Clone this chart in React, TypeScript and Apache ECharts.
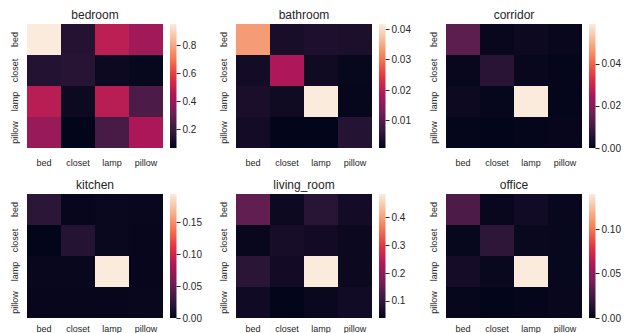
import React, { useEffect, useRef } from 'react';
import * as echarts from 'echarts';

const CATEGORIES = ['bed', 'closet', 'lamp', 'pillow'];
const ROOMS = ['bedroom', 'bathroom', 'corridor', 'kitchen', 'living_room', 'office'];

// rows: bed, closet, lamp, pillow (top to bottom); columns: bed, closet, lamp, pillow
const bedroom = [
  [0.95, 0.15, 0.48, 0.42],
  [0.145, 0.155, 0.09, 0.075],
  [0.47, 0.09, 0.47, 0.24],
  [0.4, 0.065, 0.23, 0.44],
];
const bathroom = [
  [0.0336, 0.0035, 0.004, 0.0038],
  [0.003, 0.0185, 0.0025, 0.0015],
  [0.0037, 0.0025, 0.0417, 0.0013],
  [0.003, 0.001, 0.001, 0.005],
];
const corridor = [
  [0.014, 0.001, 0.0015, 0.0008],
  [0.0008, 0.0065, 0.0008, 0.0004],
  [0.0015, 0.0005, 0.059, 0.0004],
  [0.0003, 0.0, 0.0003, 0.0006],
];
const kitchen = [
  [0.023, 0.002, 0.004, 0.003],
  [0.0, 0.019, 0.004, 0.002],
  [0.003, 0.003, 0.194, 0.002],
  [0.002, 0.002, 0.002, 0.003],
];
const livingRoom = [
  [0.15, 0.05, 0.085, 0.06],
  [0.045, 0.065, 0.058, 0.048],
  [0.088, 0.058, 0.485, 0.048],
  [0.055, 0.038, 0.047, 0.057],
];
const office = [
  [0.028, 0.002, 0.006, 0.002],
  [0.0015, 0.017, 0.003, 0.0015],
  [0.007, 0.0025, 0.14, 0.0015],
  [0.001, 0.0, 0.0008, 0.002],
];
const MATRICES = [bedroom, bathroom, corridor, kitchen, livingRoom, office];

const bedroomTicks = [0.2, 0.4, 0.6, 0.8];
const bathroomTicks = [0.01, 0.02, 0.03, 0.04];
const corridorTicks = [0.0, 0.02, 0.04];
const kitchenTicks = [0.0, 0.05, 0.1, 0.15];
const livingRoomTicks = [0.1, 0.2, 0.3, 0.4];
const officeTicks = [0.0, 0.05, 0.1];
const TICKS = [bedroomTicks, bathroomTicks, corridorTicks, kitchenTicks, livingRoomTicks, officeTicks];
const TICK_DECIMALS = [1, 2, 2, 2, 1, 2];

const ROCKET = ['#03051a', '#35193e', '#701f57', '#ad1759', '#e13342', '#f37651', '#f6b48f', '#faebdd'];

const FONT = 'Liberation Sans, Arial, sans-serif';
const TEXT = '#262626';
const PANEL_LEFT = [27, 236, 446];
const ROW_TOP = [24, 194];
const LABEL_MARGIN = [10, 6];
const HM_W = 136;
const HM_H = 124;
const CB_OFFSET = 143;
const CB_W = 6.5;

function buildOption() {
  const grid: any[] = [];
  const xAxis: any[] = [];
  const yAxis: any[] = [];
  const series: any[] = [];
  const visualMap: any[] = [];
  const title: any[] = [];

  MATRICES.forEach((m, i) => {
    const row = Math.floor(i / 3);
    const left = PANEL_LEFT[i % 3];
    const top = ROW_TOP[row];
    const flat = m.flat();
    const vmin = Math.min(...flat);
    const vmax = Math.max(...flat);
    const n = CATEGORIES.length;
    const data: number[][] = [];
    m.forEach((r0, r) => r0.forEach((v, c) => data.push([c, r, v])));

    grid.push({ left, top, width: HM_W, height: HM_H, containLabel: false, outerBoundsMode: 'none' });
    grid.push({ left: left + CB_OFFSET, top, width: CB_W, height: HM_H, containLabel: false, outerBoundsMode: 'none' });

    xAxis.push({
      gridIndex: 2 * i,
      type: 'category',
      data: CATEGORIES,
      axisLine: { show: false },
      axisTick: { show: false },
      splitLine: { show: false },
      splitArea: { show: false },
      axisLabel: { fontSize: 9, color: TEXT, margin: LABEL_MARGIN[row], interval: 0, fontFamily: FONT },
    });
    xAxis.push({ gridIndex: 2 * i + 1, type: 'category', data: ['cb'], show: false });

    yAxis.push({
      gridIndex: 2 * i,
      type: 'category',
      data: CATEGORIES,
      inverse: true,
      axisLine: { show: false },
      axisTick: { show: false },
      splitLine: { show: false },
      splitArea: { show: false },
      axisLabel: { fontSize: 9, color: TEXT, margin: 8, rotate: 90, interval: 0, hideOverlap: false, fontFamily: FONT },
    });
    const dec = TICK_DECIMALS[i];
    yAxis.push({
      gridIndex: 2 * i + 1,
      type: 'value',
      position: 'right',
      min: vmin,
      max: vmax,
      axisLine: { show: false },
      splitLine: { show: false },
      axisTick: { show: true, length: 4, customValues: TICKS[i], lineStyle: { color: TEXT, width: 1 } },
      axisLabel: {
        customValues: TICKS[i],
        fontSize: 10,
        color: TEXT,
        margin: 6,
        fontFamily: FONT,
        formatter: (v: number) => Number(v).toFixed(dec),
      },
    });

    series.push({
      type: 'custom',
      xAxisIndex: 2 * i,
      yAxisIndex: 2 * i,
      data,
      encode: { x: 0, y: 1 },
      silent: true,
      renderItem: (params: any, api: any) => {
        const c = api.value(0);
        const r = api.value(1);
        const p = api.coord([c, r]);
        const s = api.size([1, 1]);
        const color = api.visual('color');
        const x0 = Math.round(p[0] - s[0] / 2);
        const y0 = Math.round(p[1] - s[1] / 2);
        const x1 = Math.round(p[0] + s[0] / 2);
        const y1 = Math.round(p[1] + s[1] / 2);
        return {
          type: 'rect',
          shape: {
            x: x0,
            y: y0,
            width: x1 - x0 + (c < n - 1 ? 1 : 0),
            height: y1 - y0 + (r < n - 1 ? 1 : 0),
          },
          style: { fill: color },
        };
      },
    });
    series.push({
      type: 'custom',
      xAxisIndex: 2 * i + 1,
      yAxisIndex: 2 * i + 1,
      data: [[0, vmin]],
      silent: true,
      renderItem: (params: any) => {
        const cs = params.coordSys;
        return {
          type: 'rect',
          shape: { x: cs.x, y: cs.y, width: cs.width, height: cs.height },
          style: {
            fill: new echarts.graphic.LinearGradient(
              0, 1, 0, 0,
              ROCKET.map((col, k) => ({ offset: k / (ROCKET.length - 1), color: col }))
            ),
          },
        };
      },
    });

    visualMap.push({
      type: 'continuous',
      show: false,
      min: vmin,
      max: vmax,
      seriesIndex: 2 * i,
      dimension: 2,
      inRange: { color: ROCKET },
    });

    title.push({
      text: ROOMS[i],
      left: left + HM_W / 2,
      top: top - 15,
      textAlign: 'center',
      padding: 0,
      z: 20,
      textStyle: { fontSize: 12, fontWeight: 'normal', color: TEXT, fontFamily: FONT },
    });
  });

  return {
    animation: false,
    backgroundColor: '#ffffff',
    title,
    grid,
    xAxis,
    yAxis,
    visualMap,
    series,
  };
}

export default function App() {
  const ref = useRef<HTMLDivElement>(null);
  useEffect(() => {
    if (!ref.current) return;
    const chart = echarts.init(ref.current, undefined, { renderer: 'svg' });
    chart.setOption(buildOption() as any);
    return () => chart.dispose();
  }, []);
  return (
    <div
      ref={ref}
      style={{ position: 'fixed', left: 0, top: 0, width: 632, height: 333 }}
    />
  );
}
